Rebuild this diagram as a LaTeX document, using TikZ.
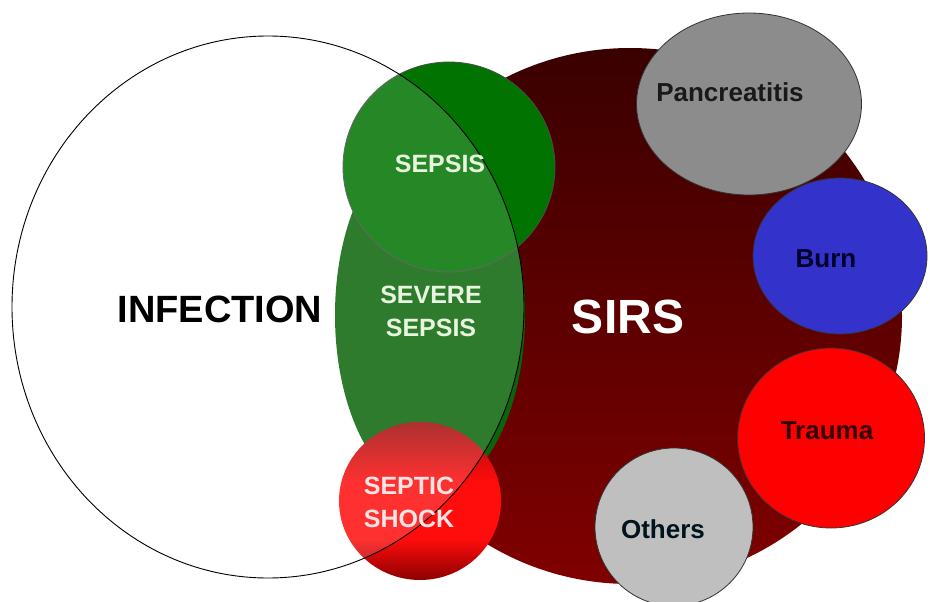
\documentclass[tikz,border=0pt]{standalone}
\usepackage{fontspec}
\setmainfont{Liberation Sans}
\usepackage{xcolor}
\definecolor{sirsdark}{RGB}{58,0,0}
\definecolor{sirsred}{RGB}{128,0,0}
\definecolor{sevgreen}{RGB}{10,100,10}
\definecolor{sepgreen}{RGB}{0,115,0}
\definecolor{shocktop}{RGB}{160,12,12}
\definecolor{shockred}{RGB}{255,12,12}
\definecolor{shockdark}{RGB}{140,0,0}
\definecolor{pancgrey}{RGB}{140,140,140}
\definecolor{burnblue}{RGB}{51,51,204}
\definecolor{traumared}{RGB}{255,0,0}
\definecolor{othgrey}{RGB}{191,191,191}
\definecolor{greentxt}{RGB}{232,245,222}
\definecolor{pinktxt}{RGB}{250,228,228}
\usetikzlibrary{shapes.geometric}
\pgfdeclareverticalshading{shockshade}{100bp}{color(0bp)=(shockdark); color(25bp)=(shockdark);
  color(38bp)=(shockred); color(56bp)=(shockred); color(75bp)=(shocktop); color(100bp)=(shocktop)}
\tikzset{
  blob/.style={ellipse,inner sep=0pt,draw=black!80,line width=0.8pt},
  bigtxt/.style={font=\bfseries\fontsize{38}{40}\selectfont,inner sep=0pt,anchor=base},
  midtxt/.style={font=\bfseries\fontsize{25}{33}\selectfont,align=center,inner sep=0pt},
  cirtxt/.style={font=\bfseries\fontsize{26}{28}\selectfont,inner sep=0pt,anchor=base},
}

\begin{document}
\begin{tikzpicture}[x=1pt,y=-1pt]
    \useasboundingbox (0,0) rectangle (930,602);
    % big sets
    \node[ellipse,inner sep=0pt,minimum width=544pt,minimum height=536pt,
          top color=sirsdark,bottom color=sirsred] (sirs) at (630,316) {};
    \node[ellipse,inner sep=0pt,minimum width=190pt,minimum height=356pt,
          fill=sevgreen] (severe) at (430,315) {};
    \node[blob,minimum width=212pt,minimum height=210pt,fill=sepgreen,draw=black!70] (sepsis) at (449,167) {};
    \node[ellipse,inner sep=0pt,minimum width=162pt,minimum height=158pt,
          shading=shockshade] (shock) at (420,501) {};
    \node[ellipse,inner sep=0pt,minimum width=512pt,minimum height=542pt,
          draw=black,line width=0.9pt,fill=white,fill opacity=0.15] (infection) at (268,307) {};
    % causes of SIRS
    \node[blob,minimum width=225pt,minimum height=182pt,fill=pancgrey] (panc) at (749,104) {};
    \node[blob,minimum width=174pt,minimum height=156pt,fill=burnblue] (burn) at (840,256) {};
    \node[blob,minimum width=187pt,minimum height=180pt,fill=traumared] (trauma) at (831,438) {};
    \node[blob,minimum width=158pt,minimum height=158pt,fill=othgrey] (others) at (674,527) {};
    % labels
    \node[bigtxt] (infectionlab) at (220,322) {INFECTION};
    \node[bigtxt,text=white,font=\bfseries\fontsize{48}{50}\selectfont] (sirslab) at (628,333) {SIRS};
    \node[midtxt,anchor=base,text=greentxt] (sepsislab) at (440,172) {SEPSIS};
    \node[midtxt,text=greentxt] (severelab) at (431,311.5) {SEVERE\\SEPSIS};
    \node[midtxt,text=pinktxt] (shocklab) at (409,502.5) {SEPTIC\\SHOCK};
    \node[cirtxt,text=black!90] (panclab) at (730,102) {Pancreatitis};
    \node[cirtxt,text={rgb,255:red,0;green,0;blue,40}] (burnlab) at (826,267) {Burn};
    \node[cirtxt,text={rgb,255:red,50;green,0;blue,0}] (traumalab) at (827,439) {Trauma};
    \node[cirtxt,text={rgb,255:red,0;green,20;blue,30}] (otherslab) at (663,538) {Others};
\end{tikzpicture}
\end{document}
